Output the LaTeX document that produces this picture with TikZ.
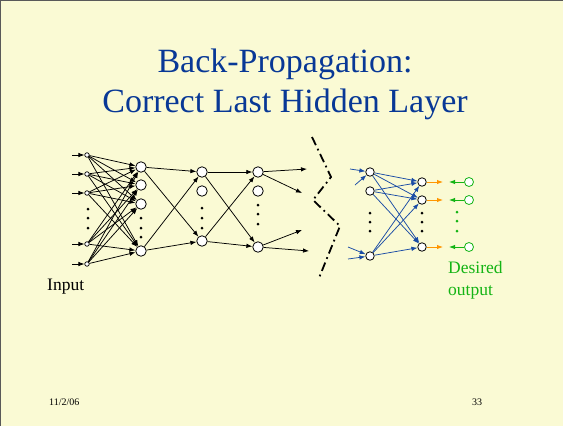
\documentclass[tikz,border=0pt]{standalone}
\usepackage{fontspec}
\setmainfont{Liberation Serif}
\usetikzlibrary{arrows.meta}
\definecolor{bg}{RGB}{250,250,212}
\definecolor{titleblue}{RGB}{8,56,150}
\definecolor{netblue}{RGB}{25,75,165}
\definecolor{orng}{RGB}{255,150,0}
\definecolor{grn}{RGB}{20,180,20}
\tikzset{
  inN/.style={circle,draw,fill=white,inner sep=0pt,minimum size=4.5pt,line width=0.7pt},
  hid/.style={circle,draw,fill=white,inner sep=0pt,minimum size=10.5pt,line width=0.8pt},
  rnode/.style={circle,draw,fill=white,inner sep=0pt,minimum size=8.5pt,line width=0.8pt},
  gnode/.style={circle,draw=grn,fill=white,inner sep=0pt,minimum size=9pt,line width=0.8pt},
  arr/.style={-{Latex[length=6pt,width=4.5pt]},line width=0.75pt},
  barr/.style={arr,draw=netblue},
  oarr/.style={arr,draw=orng,line width=0.9pt},
  garr/.style={arr,draw=grn,line width=0.9pt},
  lbl/.style={anchor=base west,inner sep=0pt,font=\fontsize{17.5}{20}\selectfont},
}
\begin{document}
\begin{tikzpicture}[x=1pt,y=-1pt]
\fill[bg] (0,0) rectangle (563,426);
\useasboundingbox (0,0) rectangle (563,426);
\draw[gray!70!black,line width=0.8pt] (0.4,426) -- (0.4,0.4) -- (563,0.4);

% title
\node[anchor=base,inner sep=0pt,text=titleblue,font=\fontsize{34}{40}\selectfont] (t1) at (285,72) {Back-Propagation:};
\node[anchor=base,inner sep=0pt,text=titleblue,font=\fontsize{34}{40}\selectfont] (t2) at (285,112) {Correct Last Hidden Layer};

% left network
\foreach \k/\y in {1/155,2/174,3/193,4/244,5/264}{
  \coordinate (s\k) at (72,\y);
  \node[inN] (i\k) at (87,\y) {};
}
\foreach \k/\y in {1/167,2/185,3/204,4/251}{ \node[hid] (a\k) at (141,\y) {}; }
\foreach \k/\y in {1/172,2/191,3/241}{ \node[hid] (b\k) at (202,\y) {}; }
\foreach \k/\y in {1/172,2/191,3/247}{ \node[hid] (c\k) at (258,\y) {}; }
\coordinate (o1) at (307,169);
\coordinate (o2) at (302,193);
\coordinate (o3) at (302,230);
\coordinate (o4) at (309,251);

\foreach \k in {1,...,5}{ \draw[arr] (s\k) -- (i\k); }
\foreach \k in {1,...,5}{ \foreach \j in {1,...,4}{ \draw[arr] (i\k) -- (a\j); } }
\foreach \k in {1,4}{ \foreach \j in {1,3}{ \draw[arr] (a\k) -- (b\j); } }
\foreach \k in {1,3}{ \foreach \j in {1,3}{ \draw[arr] (b\k) -- (c\j); } }
\draw[arr] (c1) -- (o1);
\draw[arr] (c1) -- (o2);
\draw[arr] (c3) -- (o3);
\draw[arr] (c3) -- (o4);

% dots
\foreach \x/\a/\b/\c in {88/209/218/228,141/218/228/237,202/208/218/228,258/205/214/224,370/213/222/231,422/213/222/231}{
  \foreach \y in {\a,\b,\c}{ \fill (\x,\y) circle (1.5pt); }
}
\foreach \y in {212,221,231}{ \fill[grn] (457,\y) circle (1.5pt); }

% dash-dot break
\draw[line width=1.8pt,dash pattern=on 9pt off 4pt on 1.8pt off 4pt]
  (312,137) -- (331,177) -- (313,200) -- (340,226) -- (319,278);

% right network
\foreach \k/\y in {1/172,2/191,3/256}{ \node[rnode] (d\k) at (370,\y) {}; }
\foreach \k/\y in {1/182,2/200,3/247}{
  \node[rnode] (e\k) at (422,\y) {};
  \node[gnode] (g\k) at (469,\y) {};
  \coordinate (ot\k) at (443,\y);
  \coordinate (gt\k) at (449,\y);
}
\coordinate (r1) at (350,169);
\coordinate (r2) at (355,185);
\coordinate (r3) at (348,247);
\coordinate (r4) at (348,259);
\draw[barr] (r1) -- (d1);
\draw[barr] (r2) -- (d1);
\draw[barr] (r3) -- (d3);
\draw[barr] (r4) -- (d3);
\foreach \k in {1,2,3}{ \foreach \j in {1,2,3}{ \draw[barr] (d\k) -- (e\j); } }
\foreach \k in {1,2,3}{
  \draw[oarr] (e\k) -- (ot\k);
  \draw[garr] (g\k) -- (gt\k);
}

% labels
\node[lbl] (inp) at (47,290) {Input};
\node[lbl,text=grn] (des) at (448,273) {Desired};
\node[lbl,text=grn] (outp) at (448,295) {output};

% footer
\node[anchor=base west,inner sep=0pt,font=\fontsize{10}{12}\selectfont] (date) at (49,405) {11/2/06};
\node[anchor=base,inner sep=0pt,font=\fontsize{10}{12}\selectfont] (pg) at (477,405) {33};
\end{tikzpicture}
\end{document}
